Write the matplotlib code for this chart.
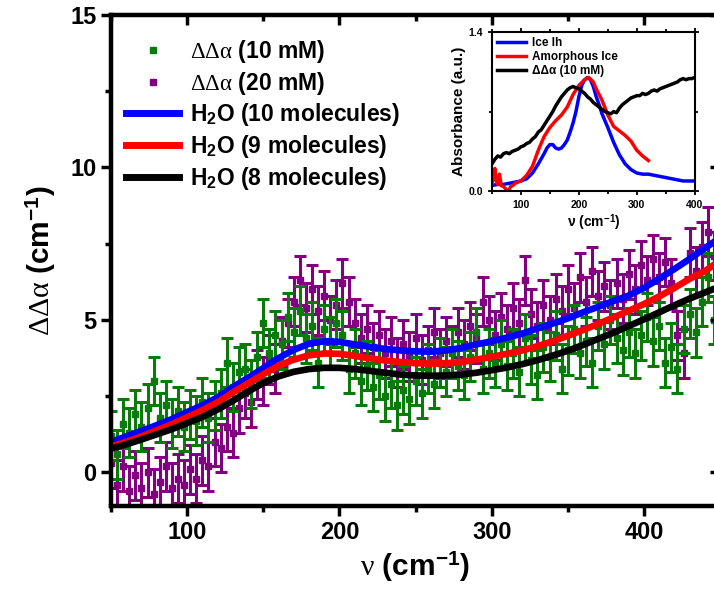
import numpy as np
import matplotlib
matplotlib.use("Agg")
import matplotlib.pyplot as plt
from matplotlib.lines import Line2D

plt.rcParams['font.family'] = ['Liberation Sans', 'DejaVu Sans']
plt.rcParams['font.weight'] = 'bold'
plt.rcParams['axes.labelweight'] = 'bold'
plt.rcParams['mathtext.fontset'] = 'custom'
plt.rcParams['mathtext.rm'] = 'Liberation Serif:normal'
plt.rcParams['mathtext.it'] = 'Liberation Serif:italic:normal'
plt.rcParams['mathtext.bf'] = 'Liberation Sans:bold'

# =========================
# Dados
# =========================
# ΔΔα medido, passo de 4 cm-1 a partir de 50
dda_10mM = [1.2, 0.6, 1.6, 1.3, 1.9, 1.5, 2.1, 3.0, 1.8, 2.2,
            1.6, 2.0, 1.5, 1.9, 1.7, 2.3, 1.8, 2.2, 2.6, 3.6,
            2.8, 3.3, 3.4, 2.9, 3.8, 4.9, 3.9, 4.5, 4.2, 5.1,
            4.6, 5.3, 4.4, 4.8, 3.6, 4.7, 4.3, 4.9, 4.5, 3.4,
            3.9, 3.0, 3.5, 2.8, 3.2, 2.5, 2.9, 2.2, 2.7, 2.4,
            3.0, 2.6, 3.4, 2.9, 3.6, 3.3, 3.9, 3.5, 3.2, 3.8,
            4.6, 3.4, 3.9, 3.6, 4.2, 3.5, 3.9, 3.3, 4.4, 3.7,
            3.2, 4.1, 3.8, 4.5, 3.4, 4.0, 4.7, 3.9, 4.3, 3.6,
            4.8, 4.2, 5.0, 4.4, 4.0, 4.6, 3.9, 4.5, 5.1, 4.3,
            4.8, 3.6, 4.1, 3.4, 4.7, 5.2, 4.6, 5.6, 6.4, 5.0,
            6.8]
dda_20mM = [0.3, -0.4, 0.2, -0.6, -0.1, -0.5, 0.0, -0.7, -0.3, 0.2,
            -0.5, -0.2, -0.4, 0.1, -0.2, 0.4, 0.2, 1.0, 0.8, 1.5,
            1.3, 2.1, 2.6, 2.3, 3.2, 3.0, 3.7, 3.4, 4.3, 4.9,
            5.6, 6.3, 5.4, 6.0, 5.3, 5.8, 5.0, 5.5, 6.2, 5.6,
            4.9, 4.4, 4.7, 4.1, 4.5, 3.9, 4.3, 3.6, 4.2, 3.8,
            4.4, 3.7, 4.0, 4.6, 3.9, 4.3, 4.0, 4.6, 4.2, 4.8,
            4.4, 5.6, 5.0, 4.5, 5.1, 4.7, 5.4, 4.9, 6.3, 5.2,
            4.8, 5.5, 5.0, 5.7, 5.3, 6.0, 5.4, 6.4, 5.6, 6.6,
            5.8, 6.1, 5.5, 6.2, 5.7, 6.5, 6.0, 6.8, 6.3, 7.0,
            6.4, 6.9, 6.2, 4.5, 3.9, 7.2, 6.6, 7.4, 7.9, 7.1,
            7.6]
err_10mM = 0.8
err_20mM = 0.8
nu_exp = np.arange(len(dda_10mM)) * 4 + 50

# ajustes H2O, passo de 10 cm-1
nu_fit = np.arange(50, 451, 10)
h2o_10 = [1.0, 1.18, 1.36, 1.55, 1.75, 1.98, 2.2, 2.46, 2.8, 3.1,
          3.42, 3.75, 4.02, 4.22, 4.3, 4.28, 4.2, 4.12, 4.05, 4.0,
          3.97, 3.96, 4.0, 4.08, 4.2, 4.3, 4.42, 4.55, 4.72, 4.88,
          5.05, 5.25, 5.43, 5.62, 5.8, 6.05, 6.35, 6.67, 7.0, 7.35,
          7.7]
h2o_9 = [0.85, 1.0, 1.18, 1.38, 1.58, 1.81, 2.04, 2.3, 2.62, 2.92,
         3.22, 3.5, 3.7, 3.84, 3.9, 3.89, 3.82, 3.74, 3.67, 3.62,
         3.58, 3.57, 3.58, 3.62, 3.7, 3.79, 3.89, 4.0, 4.14, 4.3,
         4.48, 4.67, 4.87, 5.08, 5.3, 5.52, 5.77, 6.05, 6.35, 6.6,
         6.95]
h2o_8 = [0.78, 0.92, 1.08, 1.25, 1.42, 1.62, 1.82, 2.06, 2.35, 2.65,
         2.93, 3.15, 3.3, 3.39, 3.43, 3.43, 3.39, 3.33, 3.27, 3.21,
         3.18, 3.17, 3.18, 3.21, 3.27, 3.35, 3.44, 3.55, 3.68, 3.83,
         3.99, 4.18, 4.38, 4.58, 4.8, 5.02, 5.25, 5.48, 5.7, 5.9,
         6.1]

# inset: absorbância normalizada
ice_nu = [50, 60, 70, 80, 90, 100, 110, 120, 130, 140,
          145, 150, 155, 160, 165, 170, 175, 180, 185, 190,
          195, 200, 205, 210, 215, 220, 225, 230, 235, 240,
          250, 260, 270, 280, 290, 300, 310, 320, 330, 340,
          350, 360, 370, 380, 390, 400]
ice_ih = [0.05, 0.06, 0.06, 0.07, 0.08, 0.09, 0.11, 0.16, 0.24, 0.33,
          0.38, 0.41, 0.41, 0.38, 0.37, 0.38, 0.41, 0.45, 0.52, 0.6,
          0.7, 0.83, 0.93, 0.98, 1.0, 0.98, 0.92, 0.83, 0.76, 0.68,
          0.56, 0.43, 0.32, 0.24, 0.19, 0.16, 0.15, 0.15, 0.14, 0.13,
          0.12, 0.11, 0.1, 0.09, 0.09, 0.09]
amo_nu = [50, 53, 55, 57, 60, 63, 66, 70, 74, 78,
          82, 86, 90, 95, 100, 110, 120, 130, 140, 150,
          160, 170, 180, 190, 200, 210, 217, 225, 230, 240,
          250, 260, 270, 280, 290, 300, 310, 320]
amorphous = [0.06, 0.12, 0.2, 0.1, 0.06, 0.15, 0.05, 0.04, 0.02, -0.01,
             0.04, 0.05, 0.07, 0.08, 0.09, 0.14, 0.22, 0.36, 0.48, 0.56,
             0.62, 0.67, 0.74, 0.85, 0.93, 0.98, 1.0, 0.96, 0.9, 0.8,
             0.67, 0.57, 0.53, 0.49, 0.44, 0.36, 0.31, 0.27]
dd_nu = np.arange(50, 401, 5)
dd_inset = [0.24, 0.28, 0.31, 0.30, 0.33, 0.34, 0.33, 0.35, 0.36, 0.37,
            0.39, 0.40, 0.42, 0.43, 0.46, 0.48, 0.52, 0.54, 0.58, 0.62,
            0.66, 0.70, 0.75, 0.79, 0.83, 0.86, 0.89, 0.91, 0.92, 0.91,
            0.90, 0.88, 0.86, 0.83, 0.81, 0.78, 0.76, 0.74, 0.72, 0.70,
            0.69, 0.68, 0.70, 0.69, 0.73, 0.76, 0.78, 0.80, 0.82, 0.83,
            0.84, 0.84, 0.86, 0.85, 0.86, 0.88, 0.89, 0.88, 0.90, 0.91,
            0.92, 0.93, 0.94, 0.95, 0.96, 0.98, 0.99, 0.98, 0.99, 0.99,
            1.0]

GREEN = '#0a7a0a'
PURPLE = '#800080'

# =========================
# Figura principal
# =========================
fig = plt.figure(figsize=(7.14, 5.92), dpi=100)
ax = fig.add_axes([0.1555, 0.1453, 0.853, 0.8294])

ax.errorbar(nu_exp, dda_20mM, yerr=err_20mM, fmt='s', ms=4.5, color=PURPLE,
            ecolor=PURPLE, elinewidth=2.2, capsize=4.5, capthick=2.2, zorder=2)
ax.errorbar(nu_exp, dda_10mM, yerr=err_10mM, fmt='s', ms=4.5, color=GREEN,
            ecolor=GREEN, elinewidth=2.2, capsize=4.5, capthick=2.2, zorder=3)
ax.plot(nu_fit, h2o_10, color='#0000ff', lw=4.8, zorder=4)
ax.plot(nu_fit, h2o_9, color='#ff0000', lw=4.8, zorder=5)
ax.plot(nu_fit, h2o_8, color='black', lw=4.8, zorder=6)

ax.set_xlim(50, 450)
ax.set_ylim(-1.1, 15)
ax.set_xticks([100, 200, 300, 400])
ax.set_xticks([50, 150, 250, 350, 450], minor=True)
ax.set_yticks([0, 5, 10, 15])
ax.set_yticks([2.5, 7.5, 12.5], minor=True)
ax.tick_params(axis='both', which='major', labelsize=17, width=2.5, length=7,
               direction='out')
ax.tick_params(axis='both', which='minor', width=2.5, length=4, direction='out')
for lab in ax.get_xticklabels() + ax.get_yticklabels():
    lab.set_fontweight('bold')
for s in ax.spines.values():
    s.set_linewidth(3)

# ticks de cima/direita para dentro
tx = ax.twiny()
tx.set_xlim(ax.get_xlim())
tx.set_xticks(ax.get_xticks())
tx.set_xticks([50, 150, 250, 350, 450], minor=True)
tx.tick_params(which='both', direction='in', labeltop=False, width=2.5)
tx.tick_params(which='major', length=7)
tx.tick_params(which='minor', length=4)
ty = ax.twinx()
ty.set_ylim(ax.get_ylim())
ty.set_yticks([0, 5, 10, 15])
ty.set_yticks([2.5, 7.5, 12.5], minor=True)
ty.tick_params(which='both', direction='in', labelright=False, width=2.5)
ty.tick_params(which='major', length=7)
ty.tick_params(which='minor', length=4)
for a in (tx, ty):
    for s in a.spines.values():
        s.set_linewidth(3)

ax.set_xlabel(r'$\mathrm{\nu}$ (cm$^{\mathbf{-1}}$)', fontsize=21.5,
              fontweight='bold', labelpad=5)
ax.set_ylabel(r'$\mathrm{\Delta\Delta\alpha}$ (cm$^{\mathbf{-1}}$)', fontsize=21.5,
              fontweight='bold', labelpad=9)

handles = [
    Line2D([], [], marker='s', ls='none', color=GREEN, ms=4),
    Line2D([], [], marker='s', ls='none', color=PURPLE, ms=4),
    Line2D([], [], color='#0000ff', lw=5),
    Line2D([], [], color='#ff0000', lw=5),
    Line2D([], [], color='black', lw=5),
]
labels = [r'$\mathrm{\Delta\Delta\alpha}$ (10 mM)',
          r'$\mathrm{\Delta\Delta\alpha}$ (20 mM)',
          r'H$_{\mathbf{2}}$O (10 molecules)',
          r'H$_{\mathbf{2}}$O (9 molecules)',
          r'H$_{\mathbf{2}}$O (8 molecules)']
ty.legend(handles, labels, loc='upper left', bbox_to_anchor=(-0.005, 0.99),
          frameon=False, fontsize=16.5, handlelength=2.3, handletextpad=0.5,
          labelspacing=0.2, borderpad=0.3)

# =========================
# Inset
# =========================
ins = fig.add_axes([0.689, 0.677, 0.284, 0.269])
ins.plot(ice_nu, ice_ih, color='#0000ff', lw=2.5, label='Ice Ih')
ins.plot(amo_nu, amorphous, color='#ff0000', lw=2.5, label='Amorphous Ice')
ins.plot(dd_nu, dd_inset, color='black', lw=2.5, label='ΔΔα (10 mM)')
ins.set_xlim(50, 400)
ins.set_ylim(0, 1.4)
ins.set_xticks([100, 200, 300, 400])
ins.set_xticks([50, 150, 250, 350], minor=True)
ins.set_yticks([0.0, 1.4])
ins.set_yticks([0.7], minor=True)
ins.set_yticklabels(['0.0', '1.4'])
ins.tick_params(which='both', labelsize=7.5, width=1.3, top=True, right=True)
ins.tick_params(which='major', length=3)
ins.tick_params(which='minor', length=2)
for lab in ins.get_xticklabels() + ins.get_yticklabels():
    lab.set_fontweight('bold')
for s in ins.spines.values():
    s.set_linewidth(1.5)
ins.set_xlabel(r'ν (cm$^{\mathbf{-1}}$)', fontsize=10, fontweight='bold', labelpad=1)
ins.set_ylabel('Absorbance (a.u.)', fontsize=11, fontweight='bold', labelpad=2)
ins.legend(loc='upper left', frameon=False, fontsize=8.5, handlelength=2.5,
           handletextpad=0.5, labelspacing=0.2, borderpad=0.2,
           borderaxespad=0.2)

fig.savefig('out.png', dpi=100)
